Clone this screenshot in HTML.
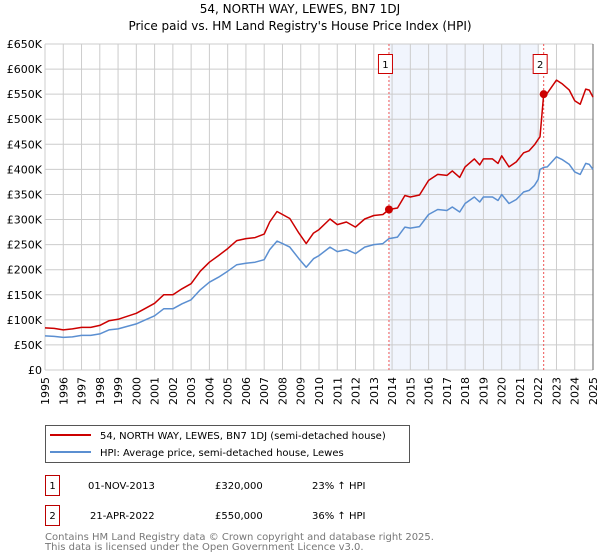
<!DOCTYPE html>
<html><head><meta charset="utf-8"><style>
body{margin:0;background:#fff;font-family:"DejaVu Sans","Liberation Sans",sans-serif;}
svg{display:block}
</style></head><body>
<svg id="chart" width="600" height="560" xmlns="http://www.w3.org/2000/svg" font-family="DejaVu Sans, Liberation Sans, sans-serif">
<text x="300" y="13" text-anchor="middle" font-size="12">54, NORTH WAY, LEWES, BN7 1DJ</text>
<text x="300" y="30" text-anchor="middle" font-size="12">Price paid vs. HM Land Registry's House Price Index (HPI)</text>
<g id="plot"></g>
<g>
<rect x="45.5" y="425.5" width="364" height="37" fill="#fff" stroke="#555"/>
<line x1="50" y1="435" x2="91" y2="435" stroke="#cc0000" stroke-width="2"/>
<text x="100" y="439" font-size="10">54, NORTH WAY, LEWES, BN7 1DJ (semi-detached house)</text>
<line x1="50" y1="452" x2="91" y2="452" stroke="#5b8fd1" stroke-width="2"/>
<text x="100" y="456" font-size="10">HPI: Average price, semi-detached house, Lewes</text>
</g>
<g font-size="10">
<rect x="45.5" y="475.5" width="14" height="20" fill="#fff" stroke="#b00"/>
<text x="52.5" y="489" text-anchor="middle">1</text>
<text x="88" y="489">01-NOV-2013</text>
<text x="215" y="489">£320,000</text>
<text x="312" y="489">23% ↑ HPI</text>
<rect x="45.5" y="505.5" width="14" height="20" fill="#fff" stroke="#b00"/>
<text x="52.5" y="519" text-anchor="middle">2</text>
<text x="90" y="519">21-APR-2022</text>
<text x="215" y="519">£550,000</text>
<text x="312" y="519">36% ↑ HPI</text>
</g>
<g font-size="10" fill="#777">
<text x="45" y="540">Contains HM Land Registry data © Crown copyright and database right 2025.</text>
<text x="45" y="550">This data is licensed under the Open Government Licence v3.0.</text>
</g>
</svg>
<script>
const years=[1995,1995.5,1996,1996.5,1997,1997.5,1998,1998.5,1999,1999.5,2000,2000.5,2001,2001.5,2002,2002.5,2003,2003.5,2004,2004.5,2005,2005.5,2006,2006.5,2007,2007.3,2007.7,2008,2008.4,2008.9,2009.3,2009.7,2010,2010.6,2011,2011.5,2012,2012.5,2013,2013.5,2013.83,2014.3,2014.7,2015,2015.5,2016,2016.5,2017,2017.3,2017.7,2018,2018.5,2018.8,2019,2019.5,2019.8,2020,2020.4,2020.8,2021.2,2021.5,2021.8,2022,2022.1,2022.3,2022.5,2023,2023.3,2023.7,2024,2024.3,2024.6,2024.8,2025];
const hpiValues=[68,67,65,66,69,69,72,80,82,87,92,100,108,122,122,132,140,160,175,185,197,210,213,215,220,240,257,252,245,222,205,222,228,245,236,240,232,245,250,252,262,265,285,283,286,310,320,318,325,315,332,345,335,345,345,338,350,332,340,355,358,368,380,400,404,405,425,420,410,395,390,412,410,400];
const redValues=[84,83,80,82,85,85,89,98,101,107,113,123,133,150,150,162,172,197,215,228,242,258,262,264,271,295,316,310,302,273,252,273,280,301,290,295,285,301,308,310,320,323,348,345,349,378,390,388,397,384,405,421,409,421,421,412,427,405,415,433,437,449,460,465,550,552,578,571,558,537,530,560,558,544];
const yTicks=[0,50,100,150,200,250,300,350,400,450,500,550,600,650];
const yTickLabels=["£0","£50K","£100K","£150K","£200K","£250K","£300K","£350K","£400K","£450K","£500K","£550K","£600K","£650K"];
const xTicks=[1995,1996,1997,1998,1999,2000,2001,2002,2003,2004,2005,2006,2007,2008,2009,2010,2011,2012,2013,2014,2015,2016,2017,2018,2019,2020,2021,2022,2023,2024,2025];
const saleYears=[2013.83,2022.3];
const saleValues=[320,550];
const saleLabels=["1","2"];
const shadeRange=[2013.83,2022.05];

const X0=45,X1=593,Y0=370,Y1=44;
const xs=y=>X0+(y-1995)/30*(X1-X0);
const ys=v=>Y0-v/650*(Y0-Y1);
const NS="http://www.w3.org/2000/svg";
const plot=document.getElementById('plot');
function mk(tag,attrs,parent){const e=document.createElementNS(NS,tag);for(const k in attrs)e.setAttribute(k,attrs[k]);(parent||plot).appendChild(e);return e;}

const bg=mk('rect',{x:X0,y:Y1,width:X1-X0,height:Y0-Y1,fill:'#fff'});


const sh=mk('rect',{x:xs(shadeRange[0]),y:Y1,width:xs(shadeRange[1])-xs(shadeRange[0]),height:Y0-Y1,fill:'#eef3fc',opacity:0.8});


yTicks.forEach((t,i)=>{
  const l=mk('line',{x1:X0,x2:X1,y1:ys(t),y2:ys(t),stroke:'#cccccc'});
  
  
  const tx=mk('text',{x:X0-3,y:ys(t)+4,'text-anchor':'end','font-size':11});
  tx.textContent=yTickLabels[i];
  
  
});
xTicks.forEach(t=>{
  const l=mk('line',{x1:xs(t),x2:xs(t),y1:Y1,y2:Y0,stroke:'#cccccc'});
  
  
  const tx=mk('text',{x:0,y:0,'text-anchor':'end','font-size':11,transform:`translate(${xs(t)+4},377) rotate(-90)`});
  tx.textContent=t;
  
  
});
const ax=mk('line',{x1:X1,x2:X1,y1:Y1,y2:Y0,stroke:'#666'});


saleYears.forEach((s,i)=>{
  const l=mk('line',{x1:xs(s),x2:xs(s),y1:Y1,y2:Y0,stroke:'#ee5555','stroke-dasharray':'2,2'});
  
  
  const r=mk('rect',{x:xs(s)-10.5,y:54.5,width:14,height:19,fill:'#fff',stroke:'#cc0000'});
  
  
  const t=mk('text',{x:xs(s)-3.5,y:68,'text-anchor':'middle','font-size':10});
  t.textContent=saleLabels[i];
  
  
});
function path(xsArr,vals,color,name){
  const d=xsArr.map((y,i)=>(i?'L':'M')+xs(y).toFixed(1)+','+ys(vals[i]).toFixed(1)).join('');
  const p=mk('path',{d:d,fill:'none',stroke:color,'stroke-width':1.5,'stroke-linejoin':'round'});
  
  
}
path(years,hpiValues,'#5b8fd1','hpi-line');
path(years,redValues,'#cc0000','price-line');
saleYears.forEach((s,i)=>{
  const c=mk('circle',{cx:xs(s),cy:ys(saleValues[i]),r:4,fill:'#cc0000'});
  
  
});
</script>
</body></html>
